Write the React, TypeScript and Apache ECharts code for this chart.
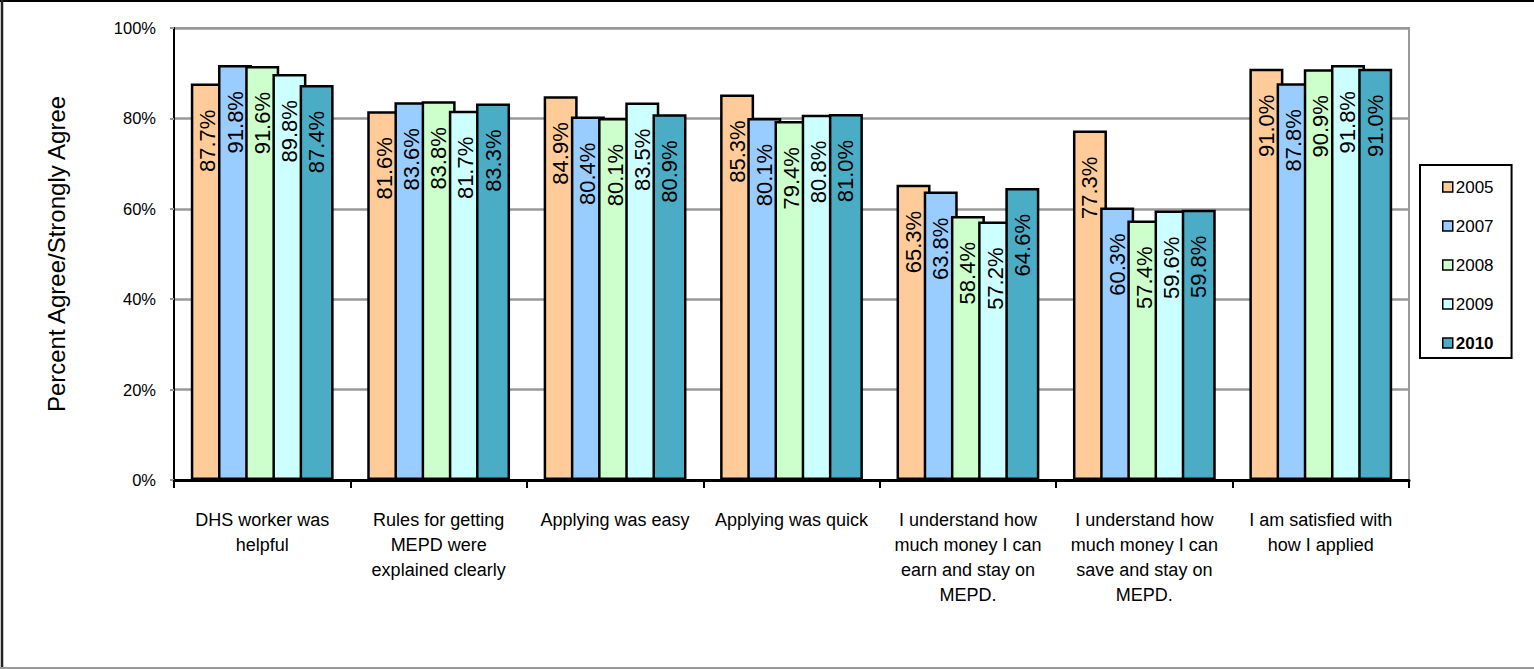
import React, { useEffect, useRef } from "react";
import * as echarts from "echarts";

const categories = [
  "DHS worker was\nhelpful",
  "Rules for getting\nMEPD were\nexplained clearly",
  "Applying was easy",
  "Applying was quick",
  "I understand how\nmuch money I can\nearn and stay on\nMEPD.",
  "I understand how\nmuch money I can\nsave and stay on\nMEPD.",
  "I am satisfied with\nhow I applied",
];
const years = ["2005", "2007", "2008", "2009", "2010"];
const values2005 = [87.7, 81.6, 84.9, 85.3, 65.3, 77.3, 91.0];
const values2007 = [91.8, 83.6, 80.4, 80.1, 63.8, 60.3, 87.8];
const values2008 = [91.6, 83.8, 80.1, 79.4, 58.4, 57.4, 90.9];
const values2009 = [89.8, 81.7, 83.5, 80.8, 57.2, 59.6, 91.8];
const values2010 = [87.4, 83.3, 80.9, 81.0, 64.6, 59.8, 91.0];
const seriesValues = [values2005, values2007, values2008, values2009, values2010];
const colors = ["#FFCC99", "#99CCFF", "#CCFFCC", "#CCFFFF", "#4BACC6"];
const yTicks = [0, 20, 40, 60, 80, 100];

const SANS = "'Liberation Sans', Arial, sans-serif";

export default function App() {
  const ref = useRef<HTMLDivElement>(null);
  useEffect(() => {
    if (!ref.current) return;
    const chart = echarts.init(ref.current, undefined, { renderer: "svg" });
    chart.setOption({
      animation: false,
      backgroundColor: "#fff",
      grid: {
        left: 174,
        right: 125,
        top: 28,
        bottom: 189,
        show: true,
        borderColor: "#999",
        borderWidth: 2,
      },
      legend: {
        orient: "vertical",
        left: 1420,
        top: 165,
        padding: [12, 18, 5, 22],
        borderColor: "#000",
        borderWidth: 2,
        itemWidth: 10,
        itemHeight: 10,
        itemGap: 19,
        icon: "rect",
        itemStyle: { borderColor: "#000", borderWidth: 1.5 },
        textStyle: { fontFamily: SANS, fontSize: 17, lineHeight: 20, color: "#000", padding: [0, 0, 0, -2] },
        data: years.map((y, i) =>
          i === 4 ? { name: y, textStyle: { fontWeight: "bold" } } : { name: y }
        ),
      },
      xAxis: {
        type: "category",
        data: categories,
        axisLine: { lineStyle: { color: "#000", width: 3 } },
        axisTick: { show: true, length: 8, lineStyle: { color: "#000", width: 2 } },
        axisLabel: {
          interval: 0,
          margin: 27,
          fontFamily: SANS,
          fontSize: 18,
          lineHeight: 25,
          color: "#000",
          align: "center",
          verticalAlign: "top",
        },
      },
      yAxis: {
        type: "value",
        min: 0,
        max: 100,
        interval: 20,
        name: "Percent Agree/Strongly Agree",
        nameLocation: "middle",
        nameGap: 106,
        nameTextStyle: { fontFamily: SANS, fontSize: 24, color: "#000" },
        axisLine: { show: true, lineStyle: { color: "#000", width: 2 } },
        axisTick: { show: true, length: 4, lineStyle: { color: "#999", width: 2 } },
        axisLabel: {
          margin: 18,
          fontFamily: SANS,
          fontSize: 16.5,
          color: "#000",
          formatter: (v: number) => (yTicks.includes(v) ? v + "%" : ""),
        },
        splitLine: { lineStyle: { color: "#999", width: 2.5 } },
      },
      series: years.map((y, i) => ({
        name: y,
        type: "bar",
        data: seriesValues[i],
        barWidth: 34,
        barGap: "-20%",
        itemStyle: { color: colors[i], borderColor: "#000", borderWidth: 2.5 },
        label: {
          show: true,
          position: "insideTop",
          rotate: 90,
          align: "right",
          verticalAlign: "middle",
          distance: 26,
          fontFamily: SANS,
          fontSize: 22,
          color: "#000",
          formatter: (p: any) => p.value.toFixed(1) + "%",
        },
      })),
      graphic: [
        { type: "line", shape: { x1: 0, y1: 1, x2: 1534, y2: 1 }, style: { stroke: "#000", lineWidth: 2 } },
        { type: "line", shape: { x1: 2, y1: 0, x2: 2, y2: 669 }, style: { stroke: "#222", lineWidth: 2.5 } },
        { type: "line", shape: { x1: 0, y1: 668, x2: 1534, y2: 668 }, style: { stroke: "#999", lineWidth: 2 } },
      ],
    });
    return () => chart.dispose();
  }, []);
  return (
    <div
      ref={ref}
      style={{ position: "fixed", left: 0, top: 0, width: 1534, height: 669 }}
    />
  );
}
